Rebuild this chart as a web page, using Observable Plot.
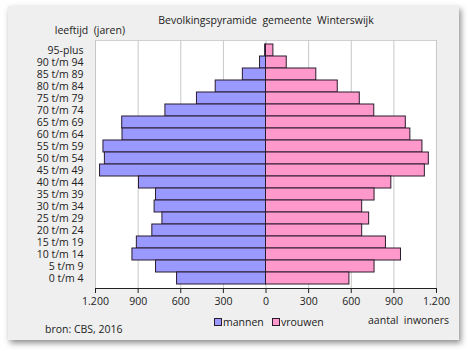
<!DOCTYPE html>
<html><head><meta charset="utf-8">
<script src="https://cdn.jsdelivr.net/npm/d3@7"></script>
<script src="https://cdn.jsdelivr.net/npm/@observablehq/plot@0.6"></script>
<style>
body{margin:0;background:#fff;font-family:"Open Sans",sans-serif;}
#wrap{position:relative;width:468px;height:351px;overflow:hidden;}
#panel{position:absolute;left:8px;top:6px;width:451px;height:334px;background:#efefef;box-shadow:2px 3px 6px rgba(0,0,0,0.45);}
#chart{position:absolute;left:0;top:0;}
</style></head>
<body><div id="wrap"><div id="panel"></div><div id="chart"></div></div>
<script>
const ageGroups = ["95-plus","90 t/m 94","85 t/m 89","80 t/m 84","75 t/m 79","70 t/m 74","65 t/m 69","60 t/m 64","55 t/m 59","50 t/m 54","45 t/m 49","40 t/m 44","35 t/m 39","30 t/m 34","25 t/m 29","20 t/m 24","15 t/m 19","10 t/m 14","5 t/m 9","0 t/m 4"];
const mannen  = [6, 42, 163, 354, 486, 708, 1012, 1010, 1144, 1134, 1168, 894, 774, 784, 729, 800, 909, 940, 774, 626];
const vrouwen = [52, 146, 354, 505, 660, 762, 984, 1016, 1101, 1146, 1118, 882, 764, 677, 726, 677, 844, 950, 764, 587];
const xTicks = [-1200, -900, -600, -300, 0, 300, 600, 900, 1200];
const seriesNames = ["mannen", "vrouwen"];
const seriesColors = ["#9999ff", "#ff99cc"];

const nl = d3.formatLocale({decimal: ",", thousands: ".", grouping: [3], currency: ["", ""]});
const fmt = nl.format(",");

const data = [];
ageGroups.forEach((g, i) => {
  data.push({age: g, sex: "mannen", value: -mannen[i]});
  data.push({age: g, sex: "vrouwen", value: vrouwen[i]});
});

const FS = 10.5;
const plot = Plot.plot({
  width: 468, height: 351,
  marginLeft: 95, marginRight: 32, marginTop: 40, marginBottom: 63,
  style: {background: "transparent", fontFamily: "Open Sans", fontSize: FS + "px", color: "#222"},
  x: {domain: [-1200, 1200], ticks: xTicks, tickFormat: d => fmt(Math.abs(d)), tickSize: 5, tickPadding: 4, label: null},
  y: {domain: ageGroups, padding: 0, tickSize: 0, tickPadding: 12, label: null},
  color: {domain: seriesNames, range: seriesColors},
  marks: [
    Plot.frame({fill: "#fff", stroke: "#d0d0d0"}),
    Plot.gridX(xTicks, {stroke: "#c8c8c8", strokeOpacity: 1}),
    Plot.barX(data, {y: "age", x: "value", fill: "sex", stroke: "#2a1a2e", strokeWidth: 1}),
    Plot.frame({anchor: "bottom", stroke: "#222"}),
    Plot.axisX({ticks: xTicks, tickFormat: d => fmt(Math.abs(d)), tickSize: 5, tickPadding: 4, stroke: "#222"})
  ]
});
document.getElementById("chart").appendChild(plot);

const svg = d3.select(plot);
function txt(x, y, s, anchor) {
  svg.append("text").attr("x", x).attr("y", y).attr("dy", "0.35em")
    .attr("text-anchor", anchor || "start").attr("fill", "#222")
    .attr("font-family", "Open Sans").attr("font-size", FS)
    .style("white-space", "pre").text(s);
}
txt(266, 20, "Bevolkingspyramide  gemeente  Winterswijk", "middle");
txt(125, 30, "leeftijd  (jaren)", "end");
txt(449, 320, "aantal  inwoners", "end");
txt(45, 329, "bron: CBS, 2016", "start");
// legend
const legX = [214, 272];
seriesNames.forEach((n, i) => {
  svg.append("rect").attr("x", legX[i] + 0.5).attr("y", 318.5).attr("width", 7).attr("height", 7)
    .attr("fill", seriesColors[i]).attr("stroke", "#2a1a2e");
  txt(legX[i] + 9, 322, n, "start");
});
</script></body></html>
